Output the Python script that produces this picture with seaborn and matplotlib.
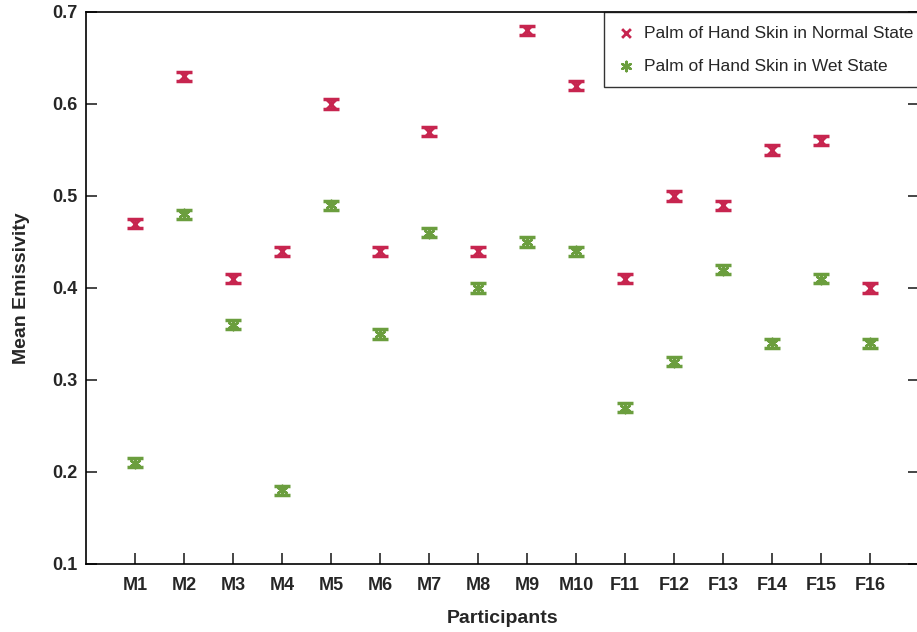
import matplotlib
matplotlib.use("Agg")
import matplotlib.pyplot as plt
import seaborn as sns
import pandas as pd
import numpy as np

participants = ["M1", "M2", "M3", "M4", "M5", "M6", "M7", "M8", "M9", "M10",
                "F11", "F12", "F13", "F14", "F15", "F16"]
normal = [0.47, 0.63, 0.41, 0.44, 0.60, 0.44, 0.57, 0.44, 0.68, 0.62,
          0.41, 0.50, 0.49, 0.55, 0.56, 0.40]
wet = [0.21, 0.48, 0.36, 0.18, 0.49, 0.35, 0.46, 0.40, 0.45, 0.44,
       0.27, 0.32, 0.42, 0.34, 0.41, 0.34]
err_normal = [0.005] * 16
err_wet = [0.005] * 16
labels = ["Palm of Hand Skin in Normal State", "Palm of Hand Skin in Wet State"]

sns.set_style("white")
plt.rcParams['font.family'] = ['Liberation Sans', 'DejaVu Sans']

red = "#C7254F"
green = "#6B9E3E"

pos = np.arange(1, len(participants) + 1)
df_n = pd.DataFrame({"pos": pos, "val": normal, "err": err_normal})
df_w = pd.DataFrame({"pos": pos, "val": wet, "err": err_wet})

fig = plt.figure(figsize=(9.17, 6.32), dpi=100)
ax = fig.add_axes([86 / 917, 1 - 564 / 632, (919 - 86) / 917, (564 - 12) / 632])

for sub, col in [(df_n, red), (df_w, green)]:
    ax.errorbar(sub.pos, sub.val, yerr=sub.err, fmt="none", ecolor=col,
                elinewidth=2, capsize=5.5, capthick=2.5, zorder=2)

sns.scatterplot(data=df_n, x="pos", y="val", marker="x", color=red,
                s=40, linewidth=2, ax=ax, zorder=3, label=labels[0])
sns.scatterplot(data=df_w, x="pos", y="val", marker=(6, 2, 0), color=green,
                edgecolor=green, s=45, linewidth=1.8, ax=ax, zorder=3,
                label=labels[1])

ax.set_xlim(0, 17)
ax.set_ylim(0.1, 0.7)
ax.set_xticks(pos)
ax.set_xticklabels(participants, fontsize=13, fontweight="bold")
ax.set_yticks([0.1, 0.2, 0.3, 0.4, 0.5, 0.6, 0.7])
ax.set_yticklabels(["0.1", "0.2", "0.3", "0.4", "0.5", "0.6", "0.7"],
                   fontsize=13, fontweight="bold")
ax.tick_params(direction="in", length=8, width=1.2, top=False, right=True,
               bottom=True, left=True)
ax.tick_params(axis="x", pad=9)
ax.tick_params(axis="y", pad=6)
for s in ax.spines.values():
    s.set_linewidth(1.2)
    s.set_color("black")
ax.set_xlabel("Participants", fontsize=14, fontweight="bold", labelpad=12)
ax.set_ylabel("Mean Emissivity", fontsize=14, fontweight="bold", labelpad=16)

leg = ax.legend(loc="upper right", fontsize=12.5, frameon=True, fancybox=False,
                edgecolor="black", borderaxespad=0, handletextpad=0.5,
                borderpad=0.8, labelspacing=1.0, handlelength=1.0,
                bbox_to_anchor=(1.0 + 8 / 833, 1.0))
leg.get_frame().set_linewidth(1.0)

fig.savefig("out.png", dpi=100)
